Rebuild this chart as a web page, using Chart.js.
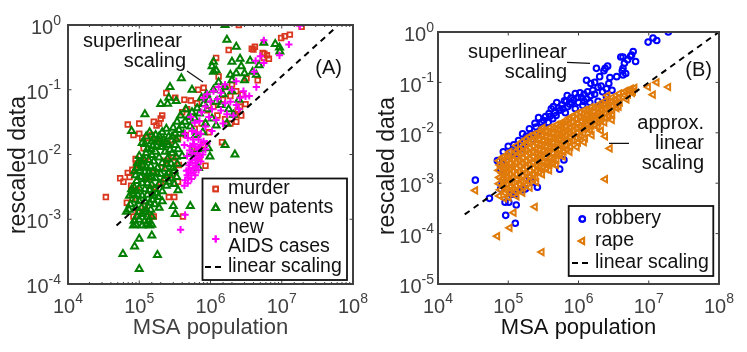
<!DOCTYPE html>
<html><head><meta charset="utf-8">
<script src="https://cdn.jsdelivr.net/npm/chart.js@4"></script>
<style>
html,body{margin:0;padding:0;background:#fff;width:747px;height:352px;overflow:hidden}
canvas{position:absolute;top:0}
#wa{position:absolute;left:0;top:0;width:370px;height:352px}
#wb{position:absolute;left:370px;top:0;width:377px;height:352px}
</style></head><body>
<div id="wa"><canvas id="a"></canvas></div>
<div id="wb"><canvas id="b"></canvas></div>
<script>
const murder=[[2.5e6,1],[1.9e7,.94],[1.3e7,.71],[1.1e7,.67],[9.8e6,.63],[1.8e6,.41],[1.2e6,.31],[3.8e6,.43],[4e6,.42],[4.2e6,.46],[5.4e6,.37],[5.7e6,.36],[6.2e6,.34],[6.6e6,.3],[5.6e6,.31],[4.6e6,.14],[1.3e6,.16],[8e5,.107],[6.7e5,.1],[2.4e5,.089],[3.2e5,.075],[4.3e5,.07],[6.9e4,.029],[1e5,.03],[8.3e4,.02],[1e5,.021],[1.1e5,.018],[1.6e5,.032],[1.75e5,.028],[1.9e5,.03],[2e5,.036],[2.1e5,.04],[1.5e5,.02],[1.3e5,.018],[1.8e5,.017],[5.3e5,.068],[6.5e5,.062],[4.7e5,.05],[4e5,.045],[1.45e6,.0155],[2.3e6,.032],[8.5e5,.0067],[2.8e6,.085],[3.1e6,.06],[2.6e6,.055],[2.4e6,.048],[2.2e6,.042],[2.7e6,.04],[1.6e6,.11],[2e6,.12],[2.3e6,.095],[1.9e6,.08],[3.2e6,.15],[1.5e6,.07],[1.1e6,.055],[9e5,.048],[1.25e6,.04],[1.6e6,.035],[1.9e6,.03],[7.5e5,.03],[6e5,.025],[4.5e5,.02],[3.5e5,.018],[5.5e5,.012],[3e5,.009],[2.4e5,.008],[1.15e5,.0125],[1.25e5,.009],[8.9e4,.0085],[1e5,.0068],[6.9e4,.0052],[8e4,.0058],[9e4,.0072],[5.4e4,.0043],[7.3e4,.0045],[6e4,.0038],[3.4e4,.0022],[7.7e4,.0033],[9.2e4,.0028],[8e4,.0021],[6.7e4,.0018],[2.6e5,.0022],[3.1e5,.0022],[1.6e5,.0011],[1.45e5,.0011],[4.1e5,.0011],[8.3e4,.0011],[9.5e4,.0013],[1.2e5,.0016],[1.4e5,.0028],[1.7e5,.0031],[2e5,.0037],[2.3e5,.0042],[3.5e5,.0038],[2.9e5,.0048],[1.3e5,.0042],[1.6e5,.0052],[2.1e5,.0062],[3.6e5,.0069],[7e5,.009],[2.5e5,.014],[2.9e5,.0165],[9.5e5,.022],[8e5,.014]];
const patents=[[1.6e6,1],[1.7e6,.59],[2.3e6,.46],[5.6e6,.53],[8.1e6,.51],[9.3e6,.45],[9.4e6,.39],[1.1e6,.27],[1.05e6,.23],[1.1e6,.19],[2e6,.27],[2.6e6,.3],[3.6e6,.28],[4.8e6,.24],[2.7e6,.23],[2.3e6,.18],[3e6,.18],[3.9e6,.19],[1.9e6,.17],[3.9e5,.15],[2.7e5,.11],[5.5e5,.1],[2e5,.06],[2.5e5,.061],[2.6e5,.075],[3.3e5,.067],[1.2e5,.042],[7.8e4,.023],[2.2e6,.01],[1.6e6,.014],[9.8e5,.0093],[9.3e5,.0125],[6.8e5,.0062],[5.2e5,.0016],[3e5,.0016],[3.2e5,.0012],[1.9e5,.0015],[1e5,5e-4],[1.5e5,5.6e-4],[8.6e4,3.8e-4],[5.9e4,2.9e-4],[1.8e5,2.8e-4],[1e5,1.7e-4],[6.6e4,.0013],[7.3e4,.0023],[8.3e4,8e-4],[1.4e5,8e-4],[3.5e5,.0028],[1.6e6,.11],[2e6,.095],[1.3e6,.13],[1.5e6,.085],[1.1e6,.1],[8.8e5,.085],[7.5e5,.075],[9.5e5,.07],[1.2e6,.065],[8e5,.06],[6.5e5,.052],[9e5,.05],[1.4e6,.058],[1.8e6,.05],[2.1e6,.041],[2.5e6,.07],[1.7e6,.03],[7e5,.043],[5.5e5,.045],[4.5e5,.05],[5e5,.038],[6e5,.036],[3.8e5,.04],[4.4e5,.032],[3.4e5,.032],[4e5,.028],[5.2e5,.027],[3.6e5,.024],[3e5,.026],[3.2e5,.021],[4.2e5,.021],[2.6e5,.019],[3.3e5,.017],[2.2e5,.017],[1.8e5,.0155],[2.6e5,.014],[1.5e5,.016],[2e5,.013],[3.5e5,.012],[1.3e5,.012],[1.7e5,.011],[2.3e5,.011],[2.9e5,.0105],[4e5,.0095],[1e5,.0095],[1.25e5,.0105],[1.5e5,.0098],[1.9e5,.009],[2.5e5,.0086],[1.15e5,.0085],[1.35e5,.0082],[1.6e5,.0078],[2.1e5,.0074],[2.8e5,.0072],[9.5e4,.0074],[1.1e5,.0068],[1.25e5,.0064],[1.45e5,.0066],[1.8e5,.0062],[2.3e5,.006],[1.02e5,.0056],[1.2e5,.0053],[1.35e5,.0052],[1.55e5,.0054],[2e5,.005],[2.6e5,.0052],[3.1e5,.0056],[8.9e4,.0048],[1.05e5,.0045],[1.2e5,.0042],[1.4e5,.0044],[1.7e5,.0043],[2.2e5,.0041],[2.8e5,.0043],[9.2e4,.0039],[1.1e5,.0036],[1.3e5,.0036],[1.5e5,.0034],[1.9e5,.0035],[2.4e5,.0033],[3.1e5,.0035],[8.5e4,.0031],[1e5,.003],[1.2e5,.0029],[1.4e5,.0028],[1.65e5,.0029],[2.1e5,.0027],[8.2e4,.0025],[9.5e4,.0024],[1.1e5,.0023],[1.3e5,.0024],[1.6e5,.0023],[1.85e5,.0022],[8.8e4,.002],[1e5,.0019],[1.2e5,.0019],[1.4e5,.0018],[1.65e5,.0017],[2.1e5,.0019],[7.5e4,.0017],[9e4,.0015],[1.08e5,.0015],[1.25e5,.0014],[1.45e5,.0014],[1.1e5,.0012],[9.3e4,.0011],[1.3e5,.0011],[1.5e5,.0011],[8.5e4,.00095],[1e5,.00098],[1.18e5,.00092],[1.35e5,.00095],[9e4,.00082],[1.1e5,.0008],[1.28e5,.00085],[1.5e5,.00082],[7.8e5,.022],[6.2e5,.02],[8.5e5,.03],[1.2e6,.028],[1.05e6,.036],[3e6,.14],[2e6,.14],[4.4e6,.17],[1.2e6,.2],[2.4e5,.025],[2.1e5,.022],[1.7e5,.02],[1.4e5,.022],[1.1e5,.015],[7e5,.012],[5.5e5,.0105],[1.25e5,.019],[1.55e5,.0135],[1.9e5,.019],[2.35e5,.0155],[2.9e5,.019],[3.2e5,.014],[1.2e5,.0145],[1.6e5,.0175],[2.15e5,.0145],[2.7e5,.0118],[1.45e5,.012],[1.75e5,.0135],[3.3e5,.0092],[9.2e4,.0062],[8.6e4,.0055],[1.07e5,.0078],[3.4e5,.0072],[3e5,.0062],[2.45e5,.0071],[2.4e5,.0047],[3.35e5,.0045],[1.75e5,.0052],[1.5e5,.0045],[2.6e5,.0038],[1.75e5,.0025],[1.55e5,.002],[9e4,.0027],[7.8e4,.0029],[7.2e4,.0014],[1.2e5,.0013],[1e5,.0013]];
const aids=[[1.8e7,.97],[1.26e7,.5],[9.3e6,.34],[5.6e6,.26],[5e6,.33],[4.3e6,.28],[4.1e6,.19],[4.4e6,.11],[5.6e6,.58],[2.3e6,.135],[3.1e6,.079],[2.6e6,.075],[4.4e5,.004],[4.4e5,.00117],[3.8e5,6.9e-4],[1.6e6,.12],[1.4e6,.09],[1.1e6,.095],[9e5,.085],[8e5,.075],[1e6,.066],[1.25e6,.072],[1.6e6,.062],[1.9e6,.065],[2.3e6,.058],[1.4e6,.048],[1.7e6,.042],[2.1e6,.04],[2.5e6,.05],[1.05e6,.05],[8.5e5,.055],[7.5e5,.045],[9.5e5,.038],[1.2e6,.034],[1.5e6,.03],[5.3e5,.038],[6e5,.031],[7e5,.033],[8.5e5,.027],[1.05e6,.023],[5.5e5,.023],[4.4e5,.021],[6.3e5,.022],[7.3e5,.021],[4.8e5,.018],[5.7e5,.017],[6.8e5,.017],[8e5,.016],[4.3e5,.014],[5.2e5,.0135],[6.2e5,.013],[7.3e5,.014],[8.5e5,.012],[5.6e5,.0105],[6.6e5,.0105],[7.8e5,.01],[4.7e5,.0095],[5.5e5,.0082],[6.5e5,.0085],[7.3e5,.0078],[5e5,.0068],[5.7e5,.0062],[6.4e5,.0066],[4.6e5,.0056],[5.3e5,.0052],[6.1e5,.0048],[4.9e5,.0044],[1.3e6,.11],[2e6,.1],[3.5e6,.08],[2.9e6,.095],[5.9e5,.0145],[6.9e5,.0122],[8.9e5,.0148],[5.1e5,.0115],[7.1e5,.0091],[6e5,.0092],[5.2e5,.0075],[6.1e5,.0074],[6.8e5,.0058],[4.9e5,.0058],[5.8e5,.0053],[4.7e5,.0048],[5.4e5,.0042],[4.8e5,.0036],[4.3e5,.0033]];
const murderLine=[[4.8e4,8e-4],[5.4e7,.86]];
const robbery=[[1.9e7,1],[1.3e7,.68],[1.15e7,.76],[9.8e6,.63],[6e6,.41],[5.7e6,.35],[5.5e6,.33],[6.5e6,.26],[5e6,.28],[4.3e6,.32],[4e6,.32],[4.5e6,.24],[4.3e6,.19],[4.2e6,.17],[4.7e6,.15],[4.3e6,.14],[1.8e6,.19],[2.6e6,.21],[2.4e6,.19],[2.3e6,.17],[1.3e6,.11],[1.7e6,.1],[2e6,.13],[1.5e6,.095],[3.5e6,.13],[2.8e6,.125],[2.7e6,.095],[2.1e6,.085],[2.5e6,.075],[3e6,.07],[2.2e6,.065],[1.9e6,.08],[1.6e6,.07],[1.7e6,.058],[2.5e6,.052],[1.9e6,.042],[2.3e6,.038],[1.45e6,.04],[1.2e6,.058],[1.1e6,.05],[1.3e6,.047],[1e6,.04],[9e5,.06],[1.15e6,.035],[6.9e5,.055],[6.3e5,.043],[8e5,.04],[7e5,.033],[9e5,.03],[5.8e5,.036],[4.9e5,.04],[4.1e5,.03],[5.5e5,.028],[4.6e5,.025],[6.5e5,.025],[3.8e5,.024],[2.7e5,.02],[3.4e5,.021],[4.3e5,.019],[3e5,.016],[3.7e5,.016],[2.5e5,.013],[3.2e5,.013],[2.8e5,.011],[2.1e5,.0095],[2.5e5,.0095],[1.8e5,.0085],[2.2e5,.0075],[1.4e5,.007],[1.7e5,.0065],[1.2e5,.0058],[1e5,.0054],[1.35e5,.0052],[1.55e5,.0048],[8.5e4,.0042],[1.1e5,.0042],[1.25e5,.0038],[7e4,.0028],[8.5e4,.0032],[1e5,.0034],[7.8e4,.0019],[8.2e4,.0024],[6.2e5,.0029],[5.4e5,.0019],[3.4e4,.00115],[5.4e4,5e-4],[7.8e4,7.7e-4],[8.2e4,.001],[9e4,4.2e-4],[1.02e5,4.2e-4],[1.3e5,3.7e-4],[9.2e4,2.3e-4],[1.26e5,1.6e-4],[2.6e5,8.3e-4],[2.2e5,.00105],[1.6e5,7.4e-4],[1.1e5,6e-4],[1.25e5,.0006],[1.75e5,7.7e-4],[2e5,.0013],[4.4e5,.033],[5.2e5,.031],[6e5,.03],[7.5e5,.037],[8.5e5,.045],[9.8e5,.05],[7.8e5,.049],[6.7e5,.042],[1.05e6,.062],[1.35e6,.065],[1.5e6,.055],[1.2e6,.042],[3.2e5,.0175],[3.9e5,.021],[4.8e5,.022],[2.4e5,.0155],[2e5,.012],[1.6e5,.0095]];
const rape=[[1.9e7,.081],[1.3e7,.1],[9.8e6,.081],[1.15e7,.057],[2.6e6,.055],[3e6,.018],[2.1e6,.017],[2.4e6,.0085],[2.1e6,.011],[2.8e6,.0049],[1.2e6,.0065],[3.1e5,.0125],[8.4e4,.0033],[2.4e6,.0012],[2.4e5,3.4e-4],[3.4e4,7.2e-4],[1.2e5,2.6e-4],[1.05e5,1.3e-4],[7e4,8.9e-5],[3e5,4.3e-5],
[7.4e4,.0028],[7.6e4,.0023],[7.3e4,.0018],[7.5e4,.0013],[7.4e4,.00098],[7.7e4,.00074],[7.5e4,.00056],
[8.8e4,.0034],[8.6e4,.0026],[9e4,.002],[8.7e4,.0015],[8.9e4,.0011],[8.6e4,.00085],[9e4,.00064],[8.8e4,.0005],
[1.05e5,.0042],[1.02e5,.0033],[1.07e5,.0025],[1.04e5,.0019],[1.06e5,.0015],[1.03e5,.0011],[1.08e5,.00086],[1.05e5,.00066],[1.02e5,.00052],
[1.3e5,.0056],[1.27e5,.0043],[1.33e5,.0034],[1.28e5,.0026],[1.32e5,.002],[1.29e5,.0015],[1.34e5,.0012],[1.3e5,.0009],[1.26e5,.00068],[1.32e5,.00055],
[1.6e5,.0068],[1.64e5,.0053],[1.57e5,.0041],[1.62e5,.0032],[1.59e5,.0025],[1.65e5,.0019],[1.6e5,.0014],[1.56e5,.0011],[1.63e5,.00085],[1.6e5,.00065],
[2e5,.0085],[1.95e5,.0066],[2.04e5,.0051],[1.98e5,.004],[2.02e5,.0031],[1.96e5,.0024],[2.05e5,.0018],[2e5,.0014],[1.97e5,.0011],[2.03e5,.00082],
[2.5e5,.0098],[2.45e5,.0076],[2.55e5,.006],[2.48e5,.0047],[2.53e5,.0037],[2.46e5,.0029],[2.56e5,.0022],[2.5e5,.0017],[2.44e5,.0013],[2.52e5,.00105],
[3.1e5,.011],[3.05e5,.0087],[3.16e5,.0069],[3.08e5,.0054],[3.14e5,.0043],[3.03e5,.0034],[3.18e5,.0026],[3.1e5,.002],[3.05e5,.0015],
[3.9e5,.0125],[3.82e5,.0099],[3.97e5,.0079],[3.87e5,.0063],[3.94e5,.005],[3.84e5,.004],[4e5,.0031],[3.9e5,.0024],[3.85e5,.0018],
[4.9e5,.0145],[4.8e5,.0115],[5e5,.0092],[4.85e5,.0073],[4.95e5,.0059],[4.82e5,.0047],[5.02e5,.0037],[4.9e5,.0029],[4.8e5,.0023],
[6e5,.0165],[5.9e5,.013],[6.15e5,.0105],[5.95e5,.0085],[6.1e5,.0068],[5.9e5,.0054],[6.2e5,.0043],[6e5,.0034],
[7.5e5,.02],[7.3e5,.016],[7.7e5,.0128],[7.4e5,.0102],[7.6e5,.0082],[7.3e5,.0066],[7.7e5,.0053],[7.5e5,.0042],
[9.5e5,.024],[9.2e5,.019],[9.8e5,.0155],[9.4e5,.0125],[9.7e5,.01],[9.3e5,.008],[9.9e5,.0064],[9.5e5,.0052],
[1.2e6,.028],[1.17e6,.023],[1.24e6,.0185],[1.19e6,.0148],[1.22e6,.012],[1.18e6,.0097],[1.25e6,.0078],
[1.5e6,.032],[1.46e6,.026],[1.55e6,.021],[1.49e6,.017],[1.53e6,.014],[1.47e6,.0112],[1.55e6,.009],
[1.9e6,.036],[1.85e6,.03],[1.95e6,.025],[1.88e6,.02],[1.93e6,.016],[1.87e6,.013],
[2.4e6,.043],[2.33e6,.036],[2.47e6,.03],[2.37e6,.024],[2.44e6,.02],[2.35e6,.016],
[3e6,.05],[2.92e6,.042],[3.1e6,.034],[2.97e6,.028],[3.05e6,.023],
[3.8e6,.06],[3.7e6,.05],[3.9e6,.04],[3.75e6,.033],
[4.7e6,.068],[4.55e6,.056],[4.85e6,.046],[5.3e6,.07],[5.1e6,.058],
[5.6e6,.075],[5.8e6,.062],[6.3e6,.078],[6e6,.066]];
const rapeCore=[[8e4,.0021],[8.2e4,.0016],[8.1e4,.0012],[8.3e4,.0009],[9.6e4,.0029],[9.5e4,.0022],[9.7e4,.0017],[9.5e4,.0013],[9.7e4,.00098],[9.5e4,.00075],[1.15e5,.0037],[1.17e5,.0029],[1.14e5,.0022],[1.17e5,.0017],[1.15e5,.0013],[1.16e5,.00098],[1.15e5,.00076],[1.43e5,.0048],[1.45e5,.0038],[1.42e5,.0029],[1.46e5,.0022],[1.43e5,.0017],[1.45e5,.0013],[1.44e5,.00098],[1.45e5,.00075],[1.78e5,.0075],[1.8e5,.0059],[1.76e5,.0046],[1.82e5,.0036],[1.78e5,.0028],[1.8e5,.0021],[1.77e5,.0016],[1.8e5,.0012],[1.78e5,.00092],[2.25e5,.0091],[2.22e5,.0071],[2.28e5,.0055],[2.23e5,.0043],[2.27e5,.0034],[2.24e5,.0026],[2.28e5,.002],[2.24e5,.0015],[2.26e5,.0012],[2.8e5,.0092],[2.76e5,.0072],[2.84e5,.0057],[2.78e5,.0045],[2.83e5,.0036],[2.77e5,.0028],[2.82e5,.0021],[2.78e5,.0016],[3.5e5,.0105],[3.44e5,.0082],[3.55e5,.0065],[3.47e5,.0052],[3.53e5,.0041],[3.45e5,.0032],[3.55e5,.0025],[3.48e5,.0019],[4.4e5,.012],[4.3e5,.0096],[4.48e5,.0077],[4.35e5,.0062],[4.45e5,.0049],[4.32e5,.0039],[4.48e5,.003],[4.38e5,.0024],[5.4e5,.0135],[5.3e5,.011],[5.5e5,.0088],[5.35e5,.0071],[5.47e5,.0057],[5.32e5,.0045],[5.5e5,.0036],[6.7e5,.0165],[6.55e5,.0133],[6.85e5,.0108],[6.6e5,.0088],[6.8e5,.0071],[6.6e5,.0056],[6.85e5,.0046],[8.4e5,.0205],[8.2e5,.0165],[8.6e5,.0135],[8.3e5,.011],[8.5e5,.0088],[8.25e5,.0071],[1.06e6,.0255],[1.03e6,.021],[1.09e6,.017],[1.05e6,.0135],[1.08e6,.011],[1.04e6,.0088],[1.33e6,.027],[1.3e6,.022],[1.37e6,.018],[1.32e6,.0145],[1.36e6,.0118],[1.7e6,.031],[1.65e6,.026],[1.75e6,.021],[1.68e6,.0175],[1.72e6,.014],[2.15e6,.035],[2.1e6,.029],[2.2e6,.024],[2.12e6,.02],[2.7e6,.04],[2.6e6,.033],[2.75e6,.027],[2.65e6,.022],[3.4e6,.047],[3.3e6,.039],[3.5e6,.031]];
const robberyLine=[[2.4e4,2.4e-4],[1e8,1]];
const pts=a=>a.map(p=>({x:p[0],y:p[1]}));
const FONT='"Liberation Sans"',INK='#404040';
function sup(ctx,base,exp,x,y,align,size){
  ctx.textBaseline='alphabetic';
  ctx.font=size+'px '+FONT;const w1=ctx.measureText(base).width;
  const ss=Math.round(size*.68);ctx.font=ss+'px '+FONT;const w2=ctx.measureText(exp).width;
  const st=align==='right'?x-w1-w2:x-(w1+w2)/2;
  ctx.textAlign='left';ctx.font=size+'px '+FONT;ctx.fillText(base,st,y);
  ctx.font=ss+'px '+FONT;ctx.fillText(exp,st+w1,y-size*.48);
}
function frame(cfg){return{id:'frame',afterDatasetsDraw(c){
  const {ctx,chartArea:A,scales:{x,y}}=c;ctx.save();
  ctx.strokeStyle=INK;ctx.lineWidth=1;ctx.beginPath();
  x.ticks.forEach(t=>{const p=x.getPixelForValue(t.value);const L=t.major?3.5:(cfg.minor?2:0);if(L){ctx.moveTo(p,A.bottom);ctx.lineTo(p,A.bottom-L);ctx.moveTo(p,A.top);ctx.lineTo(p,A.top+L);}});
  y.ticks.forEach(t=>{if(!t.major)return;const p=y.getPixelForValue(t.value);ctx.moveTo(A.left,p);ctx.lineTo(A.left+3.5,p);ctx.moveTo(A.right,p);ctx.lineTo(A.right-3.5,p);});
  ctx.stroke();
  ctx.lineWidth=2;ctx.strokeRect(A.left,A.top,A.right-A.left,A.bottom-A.top);
  ctx.fillStyle=INK;
  x.ticks.forEach(t=>{if(!t.label)return;const [b,e]=String(t.label).split('^');sup(ctx,b,e,x.getPixelForValue(t.value),312.5,'center',20);});
  y.ticks.forEach(t=>{if(!t.label)return;const [b,e]=String(t.label).split('^');sup(ctx,b,e,A.left-cfg.gap,y.getPixelForValue(t.value)+9.2,'right',20);});
  ctx.fillStyle='#1a1a1a';ctx.save();ctx.translate(cfg.titleX,cfg.titleY);ctx.rotate(-Math.PI/2);ctx.textAlign='center';ctx.textBaseline='middle';ctx.font='23px '+FONT;ctx.fillText('rescaled data',0,0);ctx.restore();
  ctx.fillStyle='#111';ctx.textBaseline='middle';ctx.font='20px '+FONT;
  cfg.notes.forEach(n=>{ctx.textAlign=n[3]||'right';ctx.fillText(n[0],n[1],n[2]);});
  ctx.strokeStyle='#111';ctx.lineWidth=1.2;ctx.beginPath();cfg.leaders.forEach(l=>{ctx.moveTo(l[0],l[1]);ctx.lineTo(l[2],l[3]);});ctx.stroke();
  const b=cfg.box;ctx.fillStyle='#fff';ctx.fillRect(b[0],b[1],b[2],b[3]);ctx.strokeStyle='#111';ctx.lineWidth=1.8;ctx.strokeRect(b[0],b[1],b[2],b[3]);
  cfg.legend.forEach(e=>{ctx.fillStyle='#111';ctx.textAlign='left';ctx.font='19.5px '+FONT;ctx.textBaseline='middle';ctx.fillText(e.t,cfg.tx,e.y);
    if(e.ds!==undefined){const d=c.data.datasets[e.ds];ctx.strokeStyle=d.pointBorderColor;ctx.fillStyle='transparent';ctx.lineWidth=d.pointBorderWidth;
      Chart.helpers.drawPoint(ctx,{pointStyle:d.pointStyle,radius:d.pointRadius,rotation:d.pointRotation||0,borderWidth:d.pointBorderWidth},cfg.mx,e.my||e.y);ctx.stroke();}
    if(e.dash){ctx.strokeStyle='#000';ctx.lineWidth=1.8;ctx.setLineDash([6,4]);ctx.beginPath();ctx.moveTo(cfg.d0,e.y);ctx.lineTo(cfg.d1,e.y);ctx.stroke();ctx.setLineDash([]);}
  });
  ctx.restore();
}};}
function ds(label,data,color,style,r,order,bw,rot){return{label,data:pts(data),showLine:false,pointStyle:style,pointRadius:r,pointHoverRadius:r,pointBackgroundColor:'transparent',pointBorderColor:color,pointBorderWidth:bw,pointRotation:rot||0,order};}
function line(data){return{label:'linear scaling',data:pts(data),showLine:true,borderColor:'#000',borderWidth:2,borderDash:[6,5],pointRadius:0,order:0};}
function label(v){const e=Math.log10(v);return Math.abs(e-Math.round(e))<1e-6?'10^'+Math.round(e):'';}
function mk(id,w,pad,ymin,datasets,cfg){
  const cv=document.getElementById(id);cv.width=w;cv.height=352;
  return new Chart(cv,{type:'scatter',data:{datasets},plugins:[frame(cfg)],options:{responsive:false,animation:false,devicePixelRatio:1,layout:{padding:pad},
    plugins:{legend:{display:false},tooltip:{enabled:false}},
    scales:{
      x:{type:'logarithmic',min:1e4,max:1e8,afterFit:s=>{s.height=68},grid:{display:false},border:{display:false},ticks:{display:false,autoSkip:false,callback:label},
         title:{display:true,text:'MSA population',font:{family:FONT,size:22},color:cfg.xColor,padding:{top:0,bottom:11}}},
      y:{type:'logarithmic',min:ymin,max:1,afterFit:s=>{s.width=68},grid:{display:false},border:{display:false},ticks:{display:false,autoSkip:false,callback:label}}
    }}});
}
mk('a',370,{top:25,right:17,left:0,bottom:0},1e-4,[
  line(murderLine),
  ds('new AIDS cases',aids,'#ff00ff','cross',3.6,1,2),
  ds('new patents',patents,'#007f00','triangle',4,2,2),
  ds('murder',murder,'#d9381e','rect',3.3,3,1.8)
],{minor:true,gap:7,titleX:19,titleY:165,xColor:INK,
  notes:[['superlinear',182,41],['scaling',186,61],['(A)',342,68]],
  leaders:[[187,71,203,82]],
  box:[202.5,178.5,144.5,101.5],tx:228,mx:215.7,d0:205,d1:222,
  legend:[{t:'murder',y:189,ds:3},{t:'new patents',y:208,ds:2},{t:'new',y:228},{t:'AIDS cases',y:247,ds:1,my:239},{t:'linear scaling',y:267,dash:1}]});
mk('b',377,{top:32,right:28,left:0,bottom:0},1e-5,[
  line(robberyLine),
  ds('rape',rape.concat(rapeCore),'#e07b0a','triangle',3.6,1,2,-90),
  ds('robbery',robbery,'#0000ff','circle',2.8,2,2)
],{minor:false,gap:4,titleX:17.5,titleY:166,xColor:'#111',
  notes:[['superlinear',197,52],['scaling',197,72],['(B)',342,70],['approx.',334,123],['linear',334,143],['scaling',334,163]],
  leaders:[[197,62.3,220,63.3],[239,143.3,259,143.3]],
  box:[198.7,206,144.6,70],tx:225,mx:212.3,d0:202,d1:218,
  legend:[{t:'robbery',y:219,ds:2},{t:'rape',y:241,ds:1},{t:'linear scaling',y:263,dash:1}]});
</script></body></html>
